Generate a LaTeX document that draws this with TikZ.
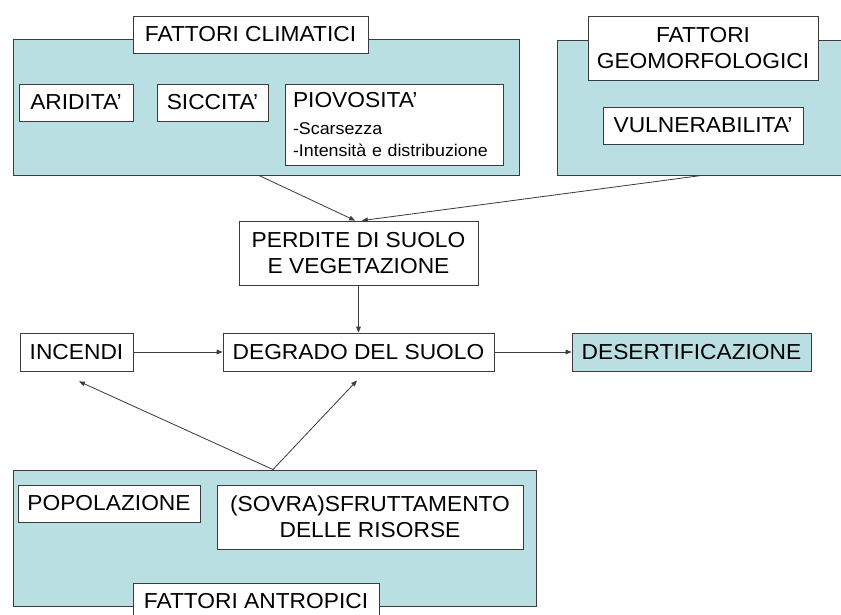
\documentclass[tikz,border=0pt]{standalone}
\usepackage{fontspec}
\setmainfont{Liberation Sans}[FakeStretch=1.05]
\usetikzlibrary{arrows.meta, positioning, calc}
\definecolor{paleteal}{RGB}{185,223,226}
\definecolor{boxline}{RGB}{60,60,60}
\tikzset{
  group/.style={rectangle, draw=boxline, fill=paleteal, line width=0.8pt},
  factor/.style={rectangle, draw=boxline, fill=white, line width=0.7pt, minimum height=11.1mm, inner sep=0pt,
                 text centered, align=center, font=\fontsize{18.5}{22}\selectfont},
  grouptitle/.style={factor},
  arrow/.style={draw=boxline, line width=0.7pt, -{Triangle[length=1.8mm, width=1.4mm]}}
}

\begin{document}
\begin{tikzpicture}[x=0.3mm, y=-0.3mm]
\useasboundingbox (0,0) rectangle (841,615);

% Nodes
\node (clim) [group, minimum width=151.8mm, minimum height=40.8mm] at (266,107) {};
\node (climtitle) [grouptitle, minimum width=70.5mm] at (250.5,34.5) {FATTORI CLIMATICI};
\node (aridita) [factor, minimum width=34.2mm] at (76,102.5) {ARIDITA'};
\node (siccita) [factor, minimum width=33.3mm] at (212.5,102.5) {SICCITA'};
\node (piovosita) [factor, minimum width=65.4mm, minimum height=24.3mm, align=left, text width=60.6mm,
                   font=\fontsize{14.5}{18}\selectfont] at (394,124.5)
  {{\fontsize{18.5}{22}\selectfont PIOVOSITA'}\\[5pt]-Scarsezza\\-Intensità e distribuzione};

\node (geo) [group, minimum width=86.7mm, minimum height=40.5mm] at (701.5,107.5) {};
\node (geotitle) [grouptitle, minimum width=69mm, minimum height=19.2mm] at (703,48) {FATTORI\\GEOMORFOLOGICI};
\node (vulnerabilita) [factor, minimum width=60mm] at (703,125.5) {VULNERABILITA'};

\node (perdite) [factor, minimum width=71.7mm, minimum height=19.2mm] at (358.5,253) {PERDITE DI SUOLO\\E VEGETAZIONE};
\node (degrado) [factor, minimum width=81.3mm, minimum height=11.4mm] at (358.5,352) {DEGRADO DEL SUOLO};
\node (incendi) [factor, minimum width=33.9mm, minimum height=11.4mm] at (76.5,352) {INCENDI};
\node (desert) [factor, fill=paleteal, minimum width=71.7mm, minimum height=11.4mm] at (691.5,352) {DESERTIFICAZIONE};

\node (antr) [group, minimum width=156.9mm, minimum height=40.8mm] at (274.5,538) {};
\node (popolazione) [factor, minimum width=54.6mm] at (109,503.5) {POPOLAZIONE};
\node (sfruttamento) [factor, minimum width=91.8mm, minimum height=19.2mm] at (370,517) {(SOVRA)SFRUTTAMENTO\\DELLE RISORSE};
\node (antrtitle) [grouptitle, minimum width=73.8mm] at (256,601.5) {FATTORI ANTROPICI};

% Arrows
\draw [arrow] ([xshift=-2.1mm]clim.south) -- ([xshift=-1mm]perdite.north);
\draw [arrow] (geo.south) -- ([xshift=1mm]perdite.north);
\draw [arrow] (perdite) -- (degrado);
\draw [arrow] (incendi) -- (degrado);
\draw [arrow] (degrado) -- (desert);
\draw [arrow] ([xshift=-0.45mm]antr.north) -- ([xshift=0.75mm, yshift=-3mm]incendi.south);
\draw [arrow] ([xshift=-0.45mm]antr.north) -- ([xshift=-0.45mm, yshift=-2.7mm]degrado.south);
\end{tikzpicture}
\end{document}
